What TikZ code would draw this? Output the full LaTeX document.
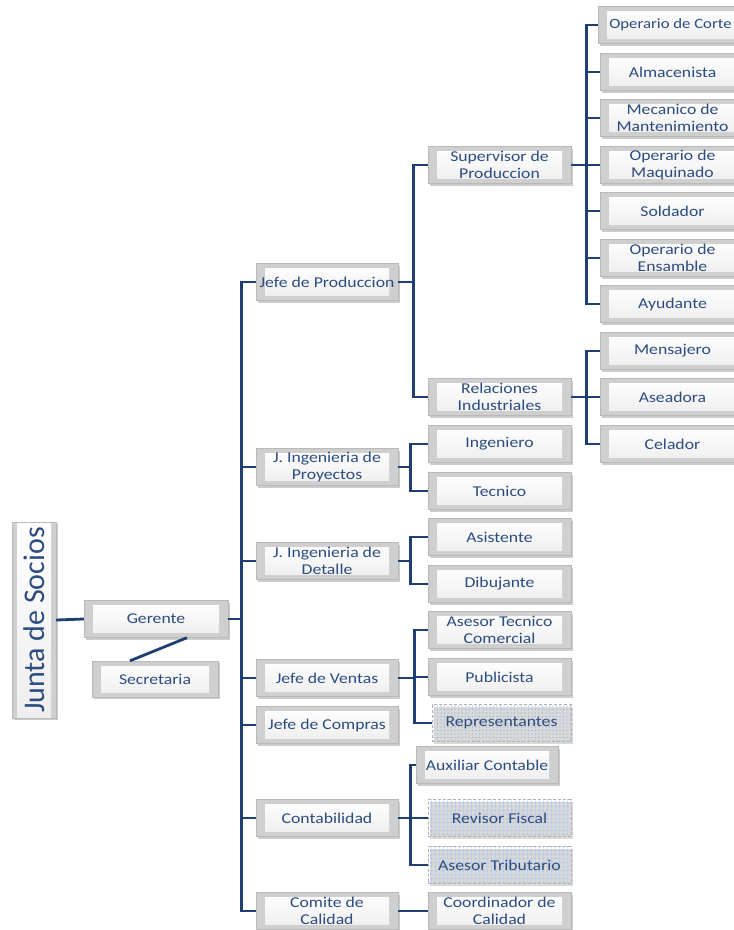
\documentclass[tikz,border=0pt]{standalone}
\usepackage{fontspec}
\newfontfamily\orgfont[FakeStretch=1.18]{Carlito}
\newfontfamily\juntafont{Carlito}
\usepackage{tikz}
\usetikzlibrary{shadows,patterns.meta,calc}
\definecolor{linkblue}{HTML}{1F3F70}
\definecolor{txtblue}{HTML}{2C4C80}
\definecolor{dotblue}{HTML}{8FB0E0}
\tikzset{
  link/.style={draw=linkblue, line width=2.8pt},
  puesto/.style={rectangle, draw=gray!55, fill=gray!38, text=txtblue, align=center,
                 font=\orgfont\fontsize{15}{16.5}\selectfont, inner sep=1pt,
                 minimum width=142pt, minimum height=37pt,
                 drop shadow={opacity=0.4, shadow xshift=1.5pt, shadow yshift=-2pt},
                 path picture={\shade[top color=white, bottom color=gray!14]
                   ([shift={(9pt,-5pt)}]path picture bounding box.north west) rectangle
                   ([shift={(-9pt,5pt)}]path picture bounding box.south east);}},
  externo/.style={rectangle, draw=gray!60, densely dashed, text=txtblue, align=center,
                  font=\orgfont\fontsize{15}{16.5}\selectfont, inner sep=1pt,
                  minimum width=140pt, minimum height=37pt,
                  preaction={fill=white},
                  pattern={Dots[distance=3.5pt, radius=0.55pt]}, pattern color=dotblue,
                  drop shadow={opacity=0.3, shadow xshift=1.5pt, shadow yshift=-2pt}},
  rayado/.style={externo, pattern={Hatch[distance=4pt, angle=0, line width=0.6pt]},
                 pattern color=dotblue!70},
  hoja/.style={puesto, minimum width=145pt}
}
\begin{document}
\begin{tikzpicture}[x=1pt,y=-1pt]
  \useasboundingbox (0,0) rectangle (734,930);
  \clip (0,0) rectangle (734,930);

  % Junta, gerencia y secretaria
  \node[puesto, minimum width=196pt, minimum height=44pt, rotate=90,
        font=\juntafont\fontsize{30}{31}\selectfont] (junta) at (34,620) {Junta de Socios};
  \node[puesto, minimum width=144pt] (ger) at (156,619) {Gerente};
  \node[puesto, minimum width=126pt, minimum height=36pt] (sec) at (155,679) {Secretaria};
  \draw[link] (junta.south) -- (ger.west);
  \draw[link] ([xshift=-25pt]sec.north) -- ([xshift=31pt]ger.south);

  % Jefaturas
  \node[puesto] (jp)   at (327,282) {Jefe de Produccion};
  \node[puesto] (jip)  at (327,467) {J. Ingenieria de\\Proyectos};
  \node[puesto] (jid)  at (327,561) {J. Ingenieria de\\Detalle};
  \node[puesto] (jv)   at (327,678) {Jefe de Ventas};
  \node[puesto] (jc)   at (327,725) {Jefe de Compras};
  \node[puesto] (cont) at (327,818) {Contabilidad};
  \node[puesto] (com)  at (327,911) {Comite de\\Calidad};

  \draw[link] (ger.east) -- ++(13,0) coordinate (gb);
  \foreach \n in {jp,jip,jid,jv,jc,cont,com}
    \draw[link] (gb) |- (\n.west);

  % Produccion
  \node[puesto, minimum width=143pt] (sup) at (499.5,165) {Supervisor de\\Produccion};
  \node[puesto, minimum width=143pt] (rel) at (499.5,397) {Relaciones\\Industriales};
  \draw[link] (jp.east) -- ++(15,0) coordinate (jpb);
  \draw[link] (jpb) |- (sup.west);
  \draw[link] (jpb) |- (rel.west);

  \node[hoja, font=\orgfont\fontsize{14.2}{16}\selectfont] (opc) at (670.5,25) {Operario de Corte};
  \node[hoja] (alm) at (672.5,72)  {Almacenista};
  \node[hoja] (mec) at (672.5,118) {Mecanico de\\Mantenimiento};
  \node[hoja] (opm) at (672.5,165) {Operario de\\Maquinado};
  \node[hoja] (sol) at (672.5,211) {Soldador};
  \node[hoja] (ope) at (672.5,258) {Operario de\\Ensamble};
  \node[hoja] (ayu) at (672.5,304) {Ayudante};
  \draw[link] (sup.east) -- ++(15,0) coordinate (supb);
  \foreach \n in {opc,alm,mec,opm,sol,ope,ayu}
    \draw[link] (supb) |- (\n.west);

  \node[hoja] (men) at (672.5,351) {Mensajero};
  \node[hoja] (asd) at (672.5,397) {Aseadora};
  \node[hoja] (cel) at (672.5,444) {Celador};
  \draw[link] (rel.east) -- ++(15,0) coordinate (relb);
  \foreach \n in {men,asd,cel}
    \draw[link] (relb) |- (\n.west);

  % Ingenieria
  \node[puesto, minimum width=143pt] (ing) at (499.5,444) {Ingeniero};
  \node[puesto, minimum width=143pt] (tec) at (499.5,491) {Tecnico};
  \draw[link] (jip.east) -- ++(12,0) coordinate (jipb);
  \draw[link] (jipb) |- (ing.west);
  \draw[link] (jipb) |- (tec.west);

  \node[puesto, minimum width=143pt] (asi) at (499.5,537) {Asistente};
  \node[puesto, minimum width=143pt] (dib) at (499.5,584) {Dibujante};
  \draw[link] (jid.east) -- ++(12,0) coordinate (jidb);
  \draw[link] (jidb) |- (asi.west);
  \draw[link] (jidb) |- (dib.west);

  % Ventas
  \node[puesto, minimum width=143pt] (atc) at (499.5,630) {Asesor Tecnico\\Comercial};
  \node[puesto, minimum width=143pt] (pub) at (499.5,677) {Publicista};
  \node[externo, minimum width=139pt] (rep) at (501.5,723) {Representantes};
  \draw[link] (jv.east) -- ++(16,0) coordinate (jvb);
  \foreach \n in {atc,pub,rep}
    \draw[link] (jvb) |- (\n.west);

  % Contabilidad
  \node[puesto] (aux) at (487,765) {Auxiliar Contable};
  \node[rayado, minimum width=143pt] (rev) at (499.5,818) {Revisor Fiscal};
  \node[rayado, minimum width=143pt] (ase) at (499.5,865) {Asesor Tributario};
  \draw[link] (cont.east) -- ++(12,0) coordinate (contb);
  \foreach \n in {aux,rev,ase}
    \draw[link] (contb) |- (\n.west);

  % Calidad
  \node[puesto, minimum width=143pt] (coo) at (499.5,911) {Coordinador de\\Calidad};
  \draw[link] (com.east) -- (coo.west);
\end{tikzpicture}
\end{document}
